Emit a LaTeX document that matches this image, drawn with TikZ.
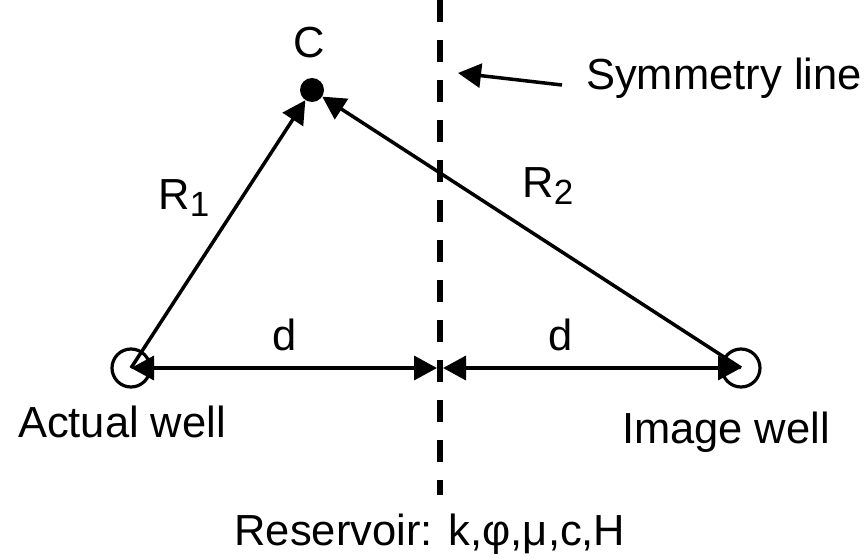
\documentclass[tikz,border=0pt]{standalone}
\usepackage{fontspec}
\setmainfont{Liberation Sans}
\usetikzlibrary{arrows.meta,positioning}
\newcommand{\lowidx}[1]{\raisebox{-7pt}{\fontsize{35}{35}\selectfont#1}}

\begin{document}
\begin{tikzpicture}[x=1pt,y=-1pt,font=\fontsize{43.5}{48}\selectfont,
well/.style={draw,circle,line width=3.2pt,minimum size=38pt,inner sep=0pt},
cpoint/.style={fill,circle,minimum size=24pt,inner sep=0pt},
lbl/.style={inner sep=0pt,anchor=base},
arr/.style={-{Triangle[length=23pt,width=24pt]},line width=3.5pt},
dbl/.style={{Triangle[length=23pt,width=24pt]}-{Triangle[length=23pt,width=24pt]},line width=3.5pt}]
\useasboundingbox (0,0) rectangle (864,559);
\node[well](aw) at (131,368){};\node[well](iw) at (741,368){};
\node[cpoint](c) at (312,90){};
\coordinate (top) at (440,0);\coordinate (bot) at (440,495);
\coordinate (ml) at (437,368);\coordinate (mr) at (443,368);
\coordinate (st) at (562,85);\coordinate (sh) at (458,73);
\draw[line width=5.5pt,dash pattern=on 22pt off 18pt](top)--(bot);
\draw[arr](aw.center)--(c);
\draw[arr](iw.center)--(c);
\draw[dbl](aw.center)--(ml);
\draw[dbl](mr)--(iw.center);
\draw[arr](st)--(sh);
\node[lbl](cl) at (309,58){C};
\node[lbl](r1) at (184,209){R\lowidx{1}};\node[lbl](r2) at (548,197){R\lowidx{2}};
\node[lbl](d1) at (285,350){d};\node[lbl](d2) at (561,350){d};
\node[lbl](al) at (122,437){Actual well};\node[lbl](il) at (726,443){Image well};
\node[lbl,anchor=base west](sl) at (586,90){Symmetry line};
\node[lbl](rl) at (430,545){Reservoir: k,φ,μ,c,H};
\end{tikzpicture}
\end{document}
